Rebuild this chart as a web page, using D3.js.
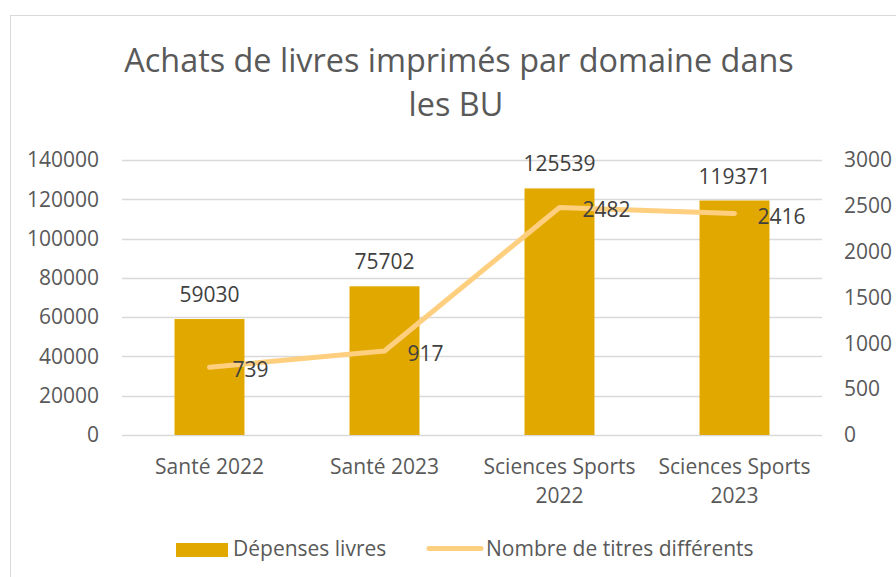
<!DOCTYPE html>
<html>
<head>
  <style>
    body { margin: 0; background: #fff; }
    text { font-family: "Open Sans", sans-serif; }
  </style>
</head>
<body>
  <div id="chart"></div>
  <script src="https://d3js.org/d3.v7.min.js"></script>
  <script>
  // data
  const categories = [["Santé 2022"], ["Santé 2023"], ["Sciences Sports", "2022"], ["Sciences Sports", "2023"]];
  const depenses = [59030, 75702, 125539, 119371];
  const titres = [739, 917, 2482, 2416];
  const leftTicks = [0, 20000, 40000, 60000, 80000, 100000, 120000, 140000];
  const rightTicks = [0, 500, 1000, 1500, 2000, 2500, 3000];

  const W = 896, H = 577;
  const margin = {top: 160, right: 74, bottom: 142, left: 122};
  const iw = W - margin.left - margin.right,
        ih = H - margin.top - margin.bottom;
  const fs = "21px";

  const svg = d3.select("#chart").append("svg")
      .attr("width", W)
      .attr("height", H);

  // chart frame (cut off on the right and bottom)
  svg.append("rect")
      .attr("x", 10.5).attr("y", 15.5)
      .attr("width", W + 20).attr("height", H + 20)
      .attr("fill", "#fff")
      .attr("stroke", "#d9d9d9");

  // title
  const title = svg.append("text")
      .attr("text-anchor", "middle")
      .attr("fill", "#595959")
      .style("font-size", "32.4px");
  title.append("tspan").attr("x", 459).attr("y", 72).text("Achats de livres imprimés par domaine dans");
  title.append("tspan").attr("x", 456).attr("y", 116).text("les BU");

  const g = svg.append("g")
      .attr("transform", "translate(" + margin.left + "," + margin.top + ")");

  const x = d3.scaleBand()
      .domain(d3.range(categories.length))
      .range([0, iw])
      .paddingInner(0.6)
      .paddingOuter(0.3);

  const y = d3.scaleLinear().domain([0, 140000]).range([ih, 0]);
  const y2 = d3.scaleLinear().domain([0, 3000]).range([ih, 0]);

  // gridlines
  g.append("g")
    .selectAll("line")
    .data(leftTicks)
    .join("line")
      .attr("x1", 0).attr("x2", iw)
      .attr("y1", d => Math.round(y(d)) + 0.5)
      .attr("y2", d => Math.round(y(d)) + 0.5)
      .attr("stroke", "#d9d9d9")
      .attr("stroke-width", 1.3);

  // left axis
  const yAxis = g.append("g")
      .attr("transform", "translate(-23,0)")
      .call(d3.axisLeft(y).tickValues(leftTicks).tickSize(0).tickPadding(0).tickFormat(d3.format("d")));
  yAxis.select(".domain").remove();
  yAxis.selectAll("text").attr("fill", "#595959").style("font-size", fs);

  // right axis
  const y2Axis = g.append("g")
      .attr("transform", "translate(" + (iw + 22) + ",0)")
      .call(d3.axisRight(y2).tickValues(rightTicks).tickSize(0).tickPadding(0).tickFormat(d3.format("d")));
  y2Axis.select(".domain").remove();
  y2Axis.selectAll("text").attr("fill", "#595959").style("font-size", fs);

  // category labels
  const xl = g.append("g")
    .selectAll("text")
    .data(categories)
    .join("text")
      .attr("text-anchor", "middle")
      .attr("fill", "#595959")
      .style("font-size", fs)
      .attr("transform", (d, i) => "translate(" + (x(i) + x.bandwidth() / 2) + "," + (ih + 39) + ")");
  xl.selectAll("tspan")
    .data(d => d)
    .join("tspan")
      .attr("x", 0)
      .attr("y", (d, i) => i * 29)
      .text(d => d);

  // bars
  g.append("g")
    .selectAll("rect")
    .data(depenses)
    .join("rect")
      .attr("x", (d, i) => x(i))
      .attr("y", d => y(d))
      .attr("width", x.bandwidth())
      .attr("height", d => ih - y(d))
      .attr("fill", "#e1a900");

  // bar value labels
  g.append("g")
    .selectAll("text")
    .data(depenses)
    .join("text")
      .attr("x", (d, i) => x(i) + x.bandwidth() / 2)
      .attr("y", d => y(d) - 17)
      .attr("text-anchor", "middle")
      .attr("fill", "#404040")
      .style("font-size", fs)
      .text(d => d);

  // line
  const cx = i => x(i) + x.bandwidth() / 2;
  g.append("path")
      .datum(titres)
      .attr("fill", "none")
      .attr("stroke", "#ffcf80")
      .attr("stroke-width", 5)
      .attr("stroke-linecap", "round")
      .attr("stroke-linejoin", "round")
      .attr("d", d3.line().x((d, i) => cx(i)).y(d => y2(d)));

  // line value labels
  g.append("g")
    .selectAll("text")
    .data(titres)
    .join("text")
      .attr("x", (d, i) => cx(i) + 23)
      .attr("y", d => y2(d) + 10)
      .attr("fill", "#404040")
      .style("font-size", fs)
      .text(d => d);

  // legend
  const lg = svg.append("g");
  lg.append("rect")
      .attr("x", 176).attr("y", 543)
      .attr("width", 52).attr("height", 14)
      .attr("fill", "#e1a900");
  lg.append("text")
      .attr("x", 233).attr("y", 556)
      .attr("fill", "#595959")
      .style("font-size", fs)
      .text("Dépenses livres");
  lg.append("line")
      .attr("x1", 429).attr("x2", 481)
      .attr("y1", 548.5).attr("y2", 548.5)
      .attr("stroke", "#ffcf80")
      .attr("stroke-width", 5)
      .attr("stroke-linecap", "round");
  lg.append("text")
      .attr("x", 486).attr("y", 556)
      .attr("fill", "#595959")
      .style("font-size", fs)
      .text("Nombre de titres différents");
  </script>
</body>
</html>
